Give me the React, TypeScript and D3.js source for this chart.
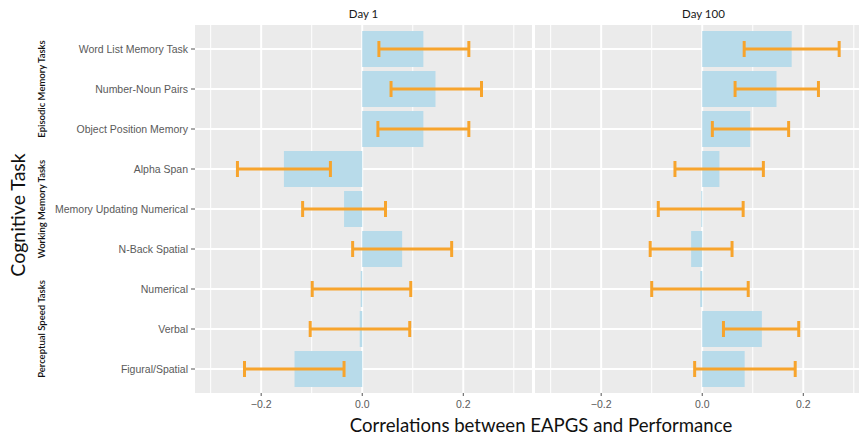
import React from "react";
import * as d3 from "d3";

const tasks = [
  "Word List Memory Task",
  "Number-Noun Pairs",
  "Object Position Memory",
  "Alpha Span",
  "Memory Updating Numerical",
  "N-Back Spatial",
  "Numerical",
  "Verbal",
  "Figural/Spatial",
];

const groups = [
  { label: "Episodic Memory Tasks", center: "Number-Noun Pairs" },
  { label: "Working Memory Tasks", center: "Memory Updating Numerical" },
  { label: "Perceptual Speed Tasks", center: "Verbal" },
];

const panels = ["Day 1", "Day 100"];

const day1Estimate = [0.121, 0.145, 0.121, -0.155, -0.036, 0.079, -0.003, -0.005, -0.134];
const day1Lower = [0.033, 0.057, 0.031, -0.247, -0.118, -0.019, -0.099, -0.103, -0.233];
const day1Upper = [0.211, 0.236, 0.211, -0.063, 0.046, 0.177, 0.096, 0.094, -0.036];

const day100Estimate = [0.177, 0.147, 0.095, 0.034, -0.002, -0.022, -0.004, 0.118, 0.084];
const day100Lower = [0.083, 0.065, 0.02, -0.054, -0.087, -0.103, -0.1, 0.042, -0.015];
const day100Upper = [0.271, 0.23, 0.171, 0.121, 0.081, 0.059, 0.091, 0.191, 0.184];

const xTicks = [-0.2, 0.0, 0.2];
const xMinorTicks = [-0.3, -0.1, 0.1, 0.3];

const W = 859;
const H = 440;
const panelTop = 25;
const panelBottom = 393;
const panelWidth = 337;
const panelLefts = [195, 535];
const domainX: [number, number] = [-0.331, 0.336];

const calibri = "Lato, 'Open Sans', sans-serif";
const arial = "'Liberation Sans', Arial, sans-serif";

export default function App() {
  const yc = d3.scalePoint<string>().domain(tasks).range([panelTop, panelBottom]).padding(0.6);

  const data = [
    { est: day1Estimate, lo: day1Lower, hi: day1Upper },
    { est: day100Estimate, lo: day100Lower, hi: day100Upper },
  ];

  const fmt = d3.format(".1f");
  const bandH = (yc.step() as number) * 0.9;

  return (
    <svg width={W} height={H} style={{ position: "absolute", left: 0, top: 0, background: "#fff" }}>
      <defs>
        <clipPath id="imgclip">
          <rect x={0} y={0} width={W} height={H} />
        </clipPath>
      </defs>
      {panels.map((p, pi) => {
        const x0 = panelLefts[pi];
        const x = d3.scaleLinear().domain(domainX).range([x0, x0 + panelWidth]);
        const d = data[pi];
        return (
          <g key={p} clipPath="url(#imgclip)">
            <rect x={x0} y={panelTop} width={panelWidth} height={panelBottom - panelTop} fill="#EBEBEB" />
            {xMinorTicks.map((t) => (
              <line key={"mi" + t} x1={x(t)} x2={x(t)} y1={panelTop} y2={panelBottom} stroke="#fff" strokeWidth={1} />
            ))}
            {xTicks.map((t) => (
              <line key={"ma" + t} x1={x(t)} x2={x(t)} y1={panelTop} y2={panelBottom} stroke="#fff" strokeWidth={2} />
            ))}
            {tasks.map((t) => (
              <line key={"h" + t} x1={x0} x2={x0 + panelWidth} y1={yc(t)} y2={yc(t)} stroke="#fff" strokeWidth={2} />
            ))}
            {tasks.map((t, i) => {
              const v = d.est[i];
              const xa = x(Math.min(0, v));
              const xb = x(Math.max(0, v));
              return (
                <rect
                  key={"b" + t}
                  x={xa}
                  y={(yc(t) as number) - bandH / 2}
                  width={Math.max(0.8, xb - xa)}
                  height={bandH}
                  fill="#B8DBEA"
                />
              );
            })}
            {tasks.map((t, i) => {
              const cy = yc(t) as number;
              const xl = x(d.lo[i]);
              const xr = x(d.hi[i]);
              return (
                <g key={"e" + t} stroke="#F7A42C" strokeWidth={3}>
                  <line x1={xl} x2={xr} y1={cy} y2={cy} />
                  <line x1={xl} x2={xl} y1={cy - 8} y2={cy + 8} />
                  <line x1={xr} x2={xr} y1={cy - 8} y2={cy + 8} />
                </g>
              );
            })}
            {xTicks.map((t) => (
              <g key={"t" + t}>
                <line x1={x(t)} x2={x(t)} y1={panelBottom} y2={panelBottom + 3} stroke="#555" strokeWidth={1} />
                <text
                  x={x(t)}
                  y={panelBottom + 15}
                  textAnchor="middle"
                  fontFamily={arial}
                  fontSize={10.5}
                  fill="#5a5a5a"
                >
                  {fmt(t)}
                </text>
              </g>
            ))}
            <text
              x={x0 + panelWidth / 2}
              y={18}
              textAnchor="middle"
              fontFamily={calibri}
              fontSize={11.5}
              fill="#1a1a1a"
            >
              {p}
            </text>
          </g>
        );
      })}
      {tasks.map((t) => (
        <g key={"yl" + t}>
          <line x1={191} x2={195} y1={yc(t)} y2={yc(t)} stroke="#555" strokeWidth={1} />
          <text
            x={188}
            y={(yc(t) as number) + 4}
            textAnchor="end"
            fontFamily={arial}
            fontSize={10.5}
            fill="#5a5a5a"
          >
            {t}
          </text>
        </g>
      ))}
      {groups.map((g) => (
        <text
          key={g.label}
          transform={`translate(45, ${yc(g.center)}) rotate(-90)`}
          textAnchor="middle"
          fontFamily={calibri}
          fontSize={9.5}
          fontWeight={600}
          fill="#111"
        >
          {g.label}
        </text>
      ))}
      <text
        transform={`translate(25, 215) rotate(-90)`}
        textAnchor="middle"
        fontFamily={calibri}
        fontSize={19.5}
        fill="#111"
      >
        Cognitive Task
      </text>
      <text x={541} y={432} textAnchor="middle" fontFamily={calibri} fontSize={18.6} fill="#111">
        Correlations between EAPGS and Performance
      </text>
    </svg>
  );
}
